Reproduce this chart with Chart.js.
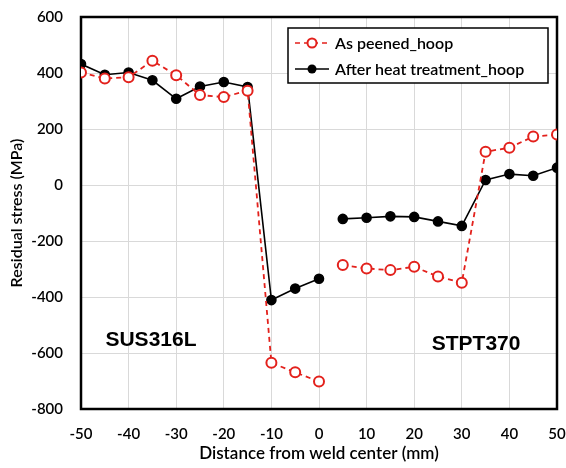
<!DOCTYPE html>
<html lang="en">
<head>
    <meta charset="UTF-8">
    <title>Residual stress</title>
    <script src="https://cdn.jsdelivr.net/npm/chart.js"></script>
    <style>
        html, body { margin: 0; padding: 0; background: #fff; }
        #wrap { width: 566px; height: 468px; }
    </style>
</head>
<body>
    <div id="wrap"><canvas id="stressChart"></canvas></div>
    <script>
        // distance from weld center (mm)
        const distance = [-50, -45, -40, -35, -30, -25, -20, -15, -10, -5, 0,
                          5, 10, 15, 20, 25, 30, 35, 40, 45, 50];
        const asPeened = [402, 380, 385, 444, 392, 321, 314, 337, -635, -669, -702,
                          -286, -298, -304, -292, -327, -349, 119, 133, 173, 180];
        const afterHeat = [432, 394, 402, 374, 308, 352, 368, 350, -411, -370, -335,
                           -121, -117, -112, -114, -130, -146, 18, 39, 33, 62];
        const xTicks = [-50, -40, -30, -20, -10, 0, 10, 20, 30, 40, 50];
        const yTicks = [-800, -600, -400, -200, 0, 200, 400, 600];
        const materials = [
            { text: 'SUS316L', x: -35.3, y: -556 },
            { text: 'STPT370', x: 33, y: -568 }
        ];
        const gapAfter = 0; // no line between the two pipes

        const RED = '#e3211c';
        const toPoints = vals => distance.map((d, i) => ({ x: d, y: vals[i] }));
        const hideGap = color => ctx => ctx.p0.parsed.x === gapAfter ? 'rgba(0,0,0,0)' : color;

        const framePlugin = {
            id: 'frame',
            beforeDatasetsDraw(chart) {
                const a = chart.chartArea, c = chart.ctx;
                c.save();
                c.strokeStyle = '#000';
                c.lineWidth = 2.5;
                c.strokeRect(a.left, a.top, a.right - a.left, a.bottom - a.top);
                c.restore();
            },
            afterDraw(chart) {
                const c = chart.ctx, xs = chart.scales.x, ys = chart.scales.y;
                c.save();
                c.font = 'bold 21px "Liberation Sans", Arial, sans-serif';
                c.fillStyle = '#000';
                c.textAlign = 'center';
                c.textBaseline = 'middle';
                materials.forEach(m => c.fillText(m.text, xs.getPixelForValue(m.x), ys.getPixelForValue(m.y)));

                // legend box
                const bx = 288, by = 28, bw = 260, bh = 55;
                c.fillStyle = '#fff';
                c.fillRect(bx, by, bw, bh);
                c.strokeStyle = '#000';
                c.lineWidth = 1.5;
                c.strokeRect(bx, by, bw, bh);
                const rows = [
                    { label: 'As peened_hoop', y: by + 15, color: RED, dash: [5, 4], open: true },
                    { label: 'After heat treatment_hoop', y: by + 41, color: '#000', dash: [], open: false }
                ];
                c.font = '600 16px Lato, "Open Sans", sans-serif';
                c.textAlign = 'left';
                rows.forEach(r => {
                    c.strokeStyle = r.color;
                    c.lineWidth = 1.5;
                    c.setLineDash(r.dash);
                    c.beginPath();
                    c.moveTo(bx + 7, r.y);
                    c.lineTo(bx + 41, r.y);
                    c.stroke();
                    c.setLineDash([]);
                    c.beginPath();
                    c.arc(bx + 24, r.y, 4.5, 0, Math.PI * 2);
                    if (r.open) {
                        c.fillStyle = '#fff';
                        c.fill();
                        c.lineWidth = 2;
                        c.stroke();
                    } else {
                        c.fillStyle = '#000';
                        c.fill();
                    }
                    c.fillStyle = '#000';
                    c.fillText(r.label, bx + 47, r.y + 1);
                });
                c.restore();
            }
        };

        new Chart(document.getElementById('stressChart'), {
            type: 'line',
            data: {
                datasets: [
                    {
                        label: 'As peened_hoop',
                        data: toPoints(asPeened),
                        borderColor: RED,
                        borderWidth: 1.8,
                        borderDash: [5, 4],
                        pointStyle: 'circle',
                        pointRadius: 5,
                        pointBorderWidth: 2,
                        pointBackgroundColor: '#fff',
                        pointBorderColor: RED,
                        segment: { borderColor: hideGap(RED) },
                        tension: 0
                    },
                    {
                        label: 'After heat treatment_hoop',
                        data: toPoints(afterHeat),
                        borderColor: '#000',
                        borderWidth: 1.6,
                        pointRadius: 4.5,
                        pointBackgroundColor: '#000',
                        pointBorderColor: '#000',
                        segment: { borderColor: hideGap('#000') },
                        tension: 0
                    }
                ]
            },
            options: {
                responsive: true,
                maintainAspectRatio: false,
                animation: false,
                layout: { padding: { top: 17, right: 9, left: 0, bottom: 0 } },
                plugins: { legend: { display: false }, tooltip: { enabled: false } },
                scales: {
                    x: {
                        type: 'linear',
                        min: -50, max: 50,
                        afterBuildTicks: s => { s.ticks = xTicks.map(v => ({ value: v })); },
                        afterFit: s => { s.height = 59; s.paddingLeft = 0; s.paddingRight = 0; },
                        grid: { color: '#d9d9d9', lineWidth: 1, drawTicks: false },
                        border: { display: false },
                        ticks: { color: '#000', padding: 16, maxRotation: 0,
                                 font: { family: 'Lato', size: 15, weight: '600' } },
                        title: { display: true, text: 'Distance from weld center (mm)', color: '#000',
                                 padding: { top: 2, bottom: 4 },
                                 font: { family: 'Lato', size: 17, weight: '600' } }
                    },
                    y: {
                        min: -800, max: 600,
                        afterBuildTicks: s => { s.ticks = yTicks.map(v => ({ value: v })); },
                        afterFit: s => { s.width = 81; s.paddingTop = 0; s.paddingBottom = 0; },
                        grid: { color: '#d9d9d9', lineWidth: 1, drawTicks: false },
                        border: { display: false },
                        ticks: { color: '#000', padding: 18,
                                 font: { family: 'Lato', size: 15, weight: '600' } },
                        title: { display: true, text: 'Residual stress (MPa)', color: '#000',
                                 padding: { top: 7, bottom: 0 },
                                 font: { family: 'Lato', size: 16, weight: '600' } }
                    }
                }
            },
            plugins: [framePlugin]
        });
    </script>
</body>
</html>
